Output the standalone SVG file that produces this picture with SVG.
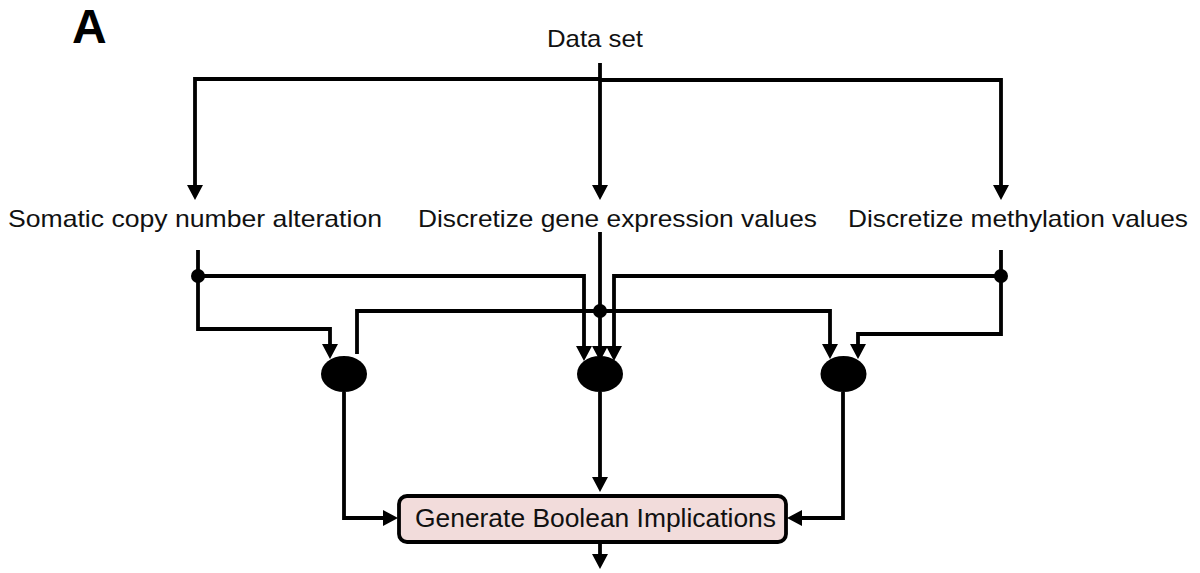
<svg xmlns="http://www.w3.org/2000/svg" width="1200" height="573" viewBox="0 0 1200 573">
<style>
.t{font-family:"Liberation Sans",Arial,sans-serif;font-size:24px;fill:#111}
.c{fill:none;stroke:#000;stroke-width:3.8;stroke-linejoin:miter}
.a{marker-end:url(#ah)}
</style>
<defs>
<marker id="ah" viewBox="0 0 15 16" refX="8" refY="8" markerWidth="15" markerHeight="16" markerUnits="userSpaceOnUse" orient="auto">
<path d="M0,0 L15,8 L0,16 Z" fill="#000"/>
</marker>
</defs>
<rect width="1200" height="573" fill="#fff"/>
<text x="72" y="43" style="font-family:'Liberation Sans',Arial,sans-serif;font-size:48px;font-weight:bold" fill="#000">A</text>

<g id="connectors">
<path class="c a" d="M600,79 H195 V193"/>
<path class="c a" d="M600,80 H1001 V193"/>
<path class="c a" d="M600,63 V193"/>
<path class="c a" d="M198,250 V329 H330 V352"/>
<path class="c a" d="M198,276 H584 V354"/>
<path class="c a" d="M600,232 V354"/>
<path class="c a" d="M357,354 V311 H830 V352"/>
<path class="c a" d="M1001,250 V334 H858 V352"/>
<path class="c a" d="M1001,276 H614 V354"/>
<path class="c a" d="M344,392 V518 H391"/>
<path class="c a" d="M600,392 V485"/>
<path class="c a" d="M843,392 V518 H794"/>
<path class="c a" d="M600,543 V562"/>
<circle cx="198" cy="276" r="7"/>
<circle cx="600" cy="311" r="7"/>
<circle cx="1001" cy="276" r="7"/>
</g>

<g id="data-set"><text class="t" x="547" y="47" textLength="96" lengthAdjust="spacingAndGlyphs">Data set</text></g>
<g id="scna"><text class="t" x="8" y="227" textLength="374" lengthAdjust="spacingAndGlyphs">Somatic copy number alteration</text></g>
<g id="gene-expr"><text class="t" x="418" y="227" textLength="399" lengthAdjust="spacingAndGlyphs">Discretize gene expression values</text></g>
<g id="methyl"><text class="t" x="848" y="227" textLength="340" lengthAdjust="spacingAndGlyphs">Discretize methylation values</text></g>

<g id="and-left"><ellipse cx="344" cy="374" rx="23" ry="18"/></g>
<g id="and-mid"><ellipse cx="600" cy="374" rx="23" ry="18"/></g>
<g id="and-right"><ellipse cx="843.5" cy="374" rx="23" ry="18"/></g>

<g id="boolean">
<rect x="399" y="496" width="387" height="46" rx="8" fill="#f2dcdb" stroke="#000" stroke-width="3.8"/>
<text class="t" x="415" y="527" style="font-size:26px" textLength="361" lengthAdjust="spacingAndGlyphs">Generate Boolean Implications</text>
</g>
</svg>
